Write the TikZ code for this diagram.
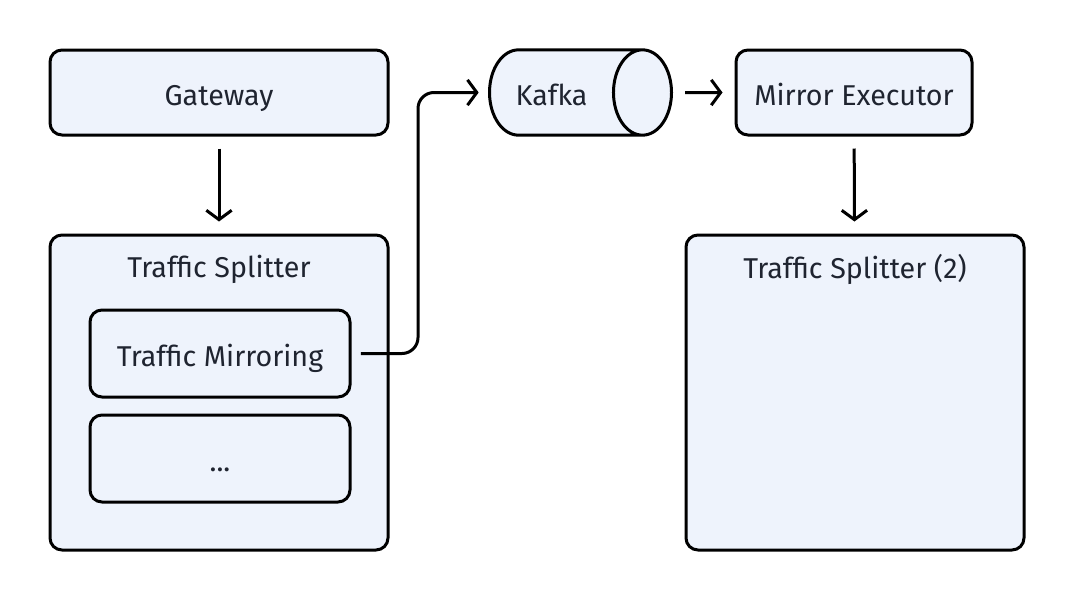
\documentclass[tikz,border=0pt]{standalone}
\usepackage{fontspec}
\setmainfont{Fira Sans}
\usepackage{tikz}
\usetikzlibrary{arrows.meta,positioning,shapes.geometric}
\definecolor{boxfill}{HTML}{EEF3FC}
\definecolor{boxtext}{HTML}{1F2430}

\begin{document}
\begin{tikzpicture}[x=0.75pt,y=-0.75pt,
		>={Straight Barb[length=7pt,width=19pt]},
		line width=2.25pt,
		box node/.style={rectangle,draw,rounded corners=9pt,fill=boxfill,
			text=boxtext,font=\fontsize{21.5}{25}\selectfont,
			text height=20pt,text depth=0pt},
		queue node/.style={cylinder,draw,fill=boxfill,text=boxtext,
			font=\fontsize{21.5}{25}\selectfont,shape aspect=0.68,
			text height=20pt,text depth=0pt,inner xsep=6pt,inner ysep=22pt,
			minimum height=136.5pt,minimum width=63.75pt},
		text node/.style={rectangle,text=boxtext,font=\fontsize{21.5}{25}\selectfont}]

		\useasboundingbox (0,0) rectangle (1073,600);

		\node[box node,minimum width=253.5pt,minimum height=63.75pt] (gw) at (219,92.5) {Gateway};
		\node[box node,minimum width=253.5pt,minimum height=236.25pt] (ts) at (219,392.5) {};
		\node[text node] (tstitle) at (219,269) {Traffic Splitter};
		\node[box node,minimum width=195pt,minimum height=65.25pt] (tm) at (220,353.5) {Traffic Mirroring};
		\node[box node,minimum width=195pt,minimum height=65.25pt] (dots) at (220,458.5) {...};

		\node[queue node,anchor=west] (kafka) at (488,92.5) {Kafka};
		\node[box node,minimum width=177pt,minimum height=63.75pt] (me) at (854,92.5) {Mirror Executor};
		\node[box node,minimum width=253.5pt,minimum height=236.25pt] (ts2) at (855,392.5) {};
		\node[text node] (ts2title) at (855,269) {Traffic Splitter (2)};

		\path[->,shorten <=9pt,shorten >=9pt]
			(gw) edge (ts)
			(me) edge (ts2)
			(kafka) edge (me);
		\draw[->,rounded corners=12pt,shorten <=7pt,shorten >=7pt]
			(tm.east) -| (418,200) |- (kafka.west);

	\end{tikzpicture}
\end{document}
